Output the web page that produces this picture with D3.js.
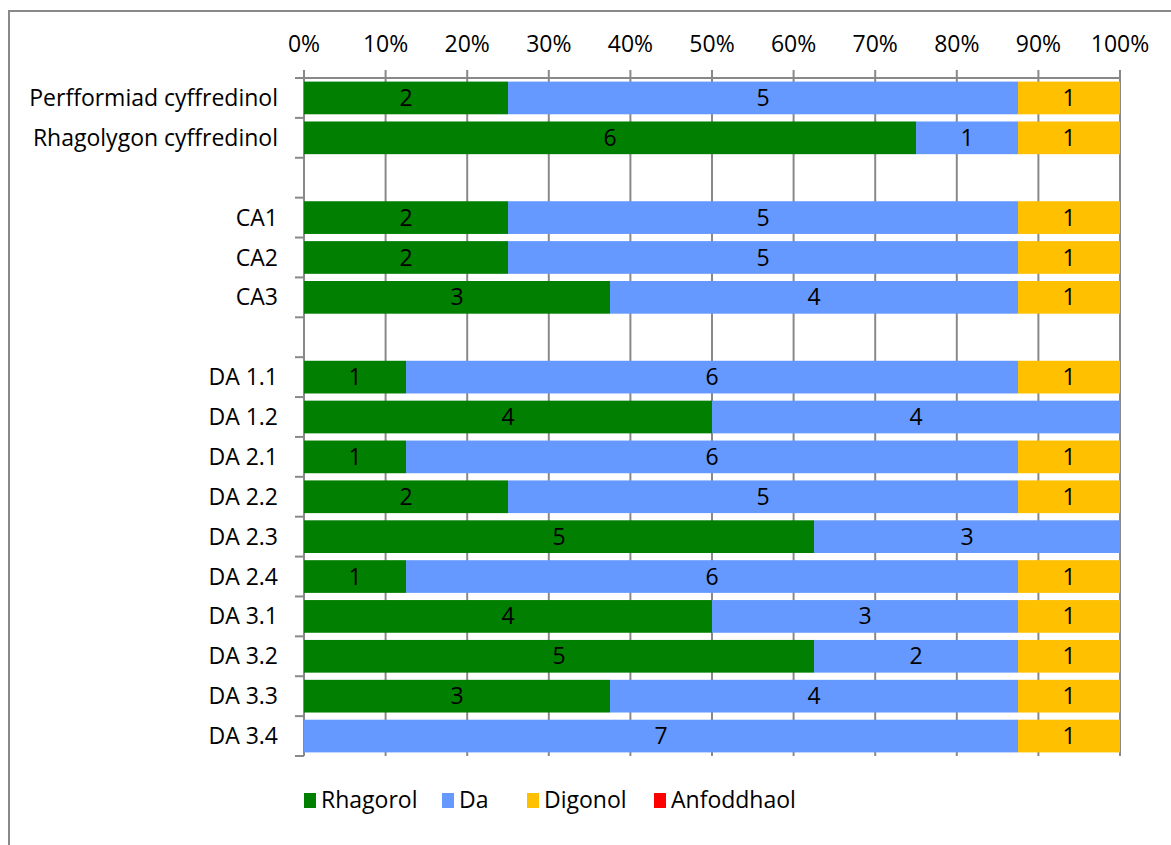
<!DOCTYPE html>
<html><head><meta charset="utf-8">
<script src="https://cdn.jsdelivr.net/npm/d3@7"></script>
<style>body{margin:0;background:#fff}svg{display:block}text{font-family:"Open Sans",sans-serif;fill:#000}</style>
</head><body>
<svg id="c" width="1171" height="845"></svg>
<script>
const categories = ["Perfformiad cyffredinol","Rhagolygon cyffredinol","","CA1","CA2","CA3","","DA 1.1","DA 1.2","DA 2.1","DA 2.2","DA 2.3","DA 2.4","DA 3.1","DA 3.2","DA 3.3","DA 3.4"];
const seriesNames = ["Rhagorol","Da","Digonol","Anfoddhaol"];
const rhagorol   = [2,6,null,2,2,3,null,1,4,1,2,5,1,4,5,3,0];
const da         = [5,1,null,5,5,4,null,6,4,6,5,3,6,3,2,4,7];
const digonol    = [1,1,null,1,1,1,null,1,0,1,1,0,1,1,1,1,1];
const anfoddhaol = [0,0,null,0,0,0,null,0,0,0,0,0,0,0,0,0,0];
const xTicks = [0,0.1,0.2,0.3,0.4,0.5,0.6,0.7,0.8,0.9,1];
const colors = ["#007F00","#6699FF","#FFC000","#FF0000"];

const svg = d3.select("#c");
const fs = 23;
svg.append("rect").attr("x",9).attr("y",11).attr("width",1300).attr("height",1000)
  .attr("fill","none").attr("stroke","#898989").attr("stroke-width",2);

const L=304, R=1120, T=78, B=756;
const x = d3.scaleLinear().domain([0,1]).range([L,R]);
const y = d3.scaleBand().domain(d3.range(categories.length)).range([T,B]).paddingInner(0.18).paddingOuter(0.09);
const step = y.step();

// gridlines + top ticks
const g = svg.append("g");
g.selectAll("line.grid").data(xTicks).join("line")
  .attr("x1",d=>x(d)).attr("x2",d=>x(d)).attr("y1",T-8).attr("y2",B)
  .attr("stroke","#898989").attr("stroke-width",2);
g.append("line").attr("x1",L-9).attr("x2",R).attr("y1",T).attr("y2",T).attr("stroke","#898989").attr("stroke-width",2);
// left ticks at band boundaries
g.selectAll("line.lt").data(d3.range(categories.length+1)).join("line")
  .attr("x1",L-9).attr("x2",L).attr("y1",i=>T+i*step).attr("y2",i=>T+i*step)
  .attr("stroke","#898989").attr("stroke-width",2);

// tick labels
svg.selectAll("text.xt").data(xTicks).join("text")
  .attr("x",d=>x(d)).attr("y",52).attr("text-anchor","middle").attr("font-size",fs)
  .text(d=>Math.round(d*100)+"%");
svg.selectAll("text.yl").data(categories).join("text")
  .attr("x",278).attr("y",(d,i)=>y(i)+y.bandwidth()/2).attr("dy","0.35em")
  .attr("text-anchor","end").attr("font-size",fs).text(d=>d);

// bars
const vals = [rhagorol,da,digonol,anfoddhaol];
const rows = categories.map((c,i)=>{
  if (rhagorol[i]===null) return null;
  const v = vals.map(a=>a[i]); const tot = d3.sum(v);
  let acc=0; return v.map((val,k)=>{const s={i,k,val,x0:acc/tot,x1:(acc+val)/tot}; acc+=val; return s;});
}).filter(r=>r).flat().filter(s=>s.val>0);
const bars = svg.append("g");
bars.selectAll("rect").data(rows).join("rect")
  .attr("x",d=>x(d.x0)).attr("width",d=>x(d.x1)-x(d.x0))
  .attr("y",d=>y(d.i)).attr("height",y.bandwidth()).attr("fill",d=>colors[d.k]);
bars.selectAll("text").data(rows).join("text")
  .attr("x",d=>(x(d.x0)+x(d.x1))/2).attr("y",d=>y(d.i)+y.bandwidth()/2).attr("dy","0.35em")
  .attr("text-anchor","middle").attr("font-size",fs).text(d=>d.val);

// legend
const legX = [304,442,527,654];
const lg = svg.append("g");
seriesNames.forEach((n,k)=>{
  lg.append("rect").attr("x",legX[k]).attr("y",793).attr("width",12).attr("height",15).attr("fill",colors[k]);
  lg.append("text").attr("x",legX[k]+17).attr("y",808).attr("font-size",fs).text(n);
});
</script>
</body></html>
